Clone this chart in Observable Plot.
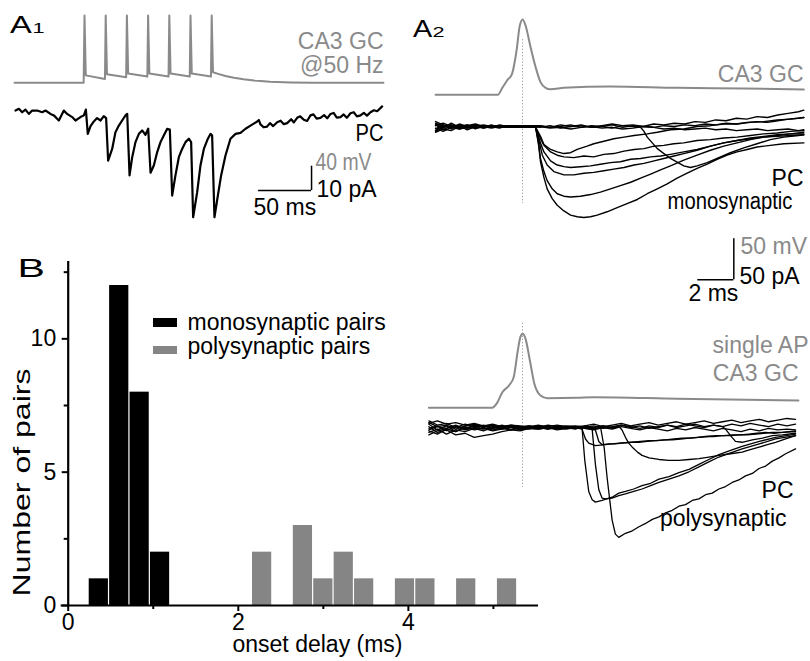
<!DOCTYPE html>
<html><head><meta charset="utf-8">
<script src="https://cdn.jsdelivr.net/npm/d3@7"></script>
<script src="https://cdn.jsdelivr.net/npm/@observablehq/plot@0.6"></script>
<style>
html,body{margin:0;padding:0;background:#fff;}
#fig{position:relative;width:810px;height:661px;overflow:hidden;background:#fff;}
</style></head><body><div id="fig"></div>
<script>
// ================= DATA =================
// Panel B histogram (onset delay, ms)
const binWidth = 0.24;
const monoBinStart = [0.24, 0.48, 0.72, 0.96];
const monoCounts = [1, 12, 8, 2];
const polyBinStart = [2.16, 2.64, 2.88, 3.12, 3.36, 3.84, 4.08, 4.56, 5.04];
const polyCounts = [2, 3, 1, 2, 1, 1, 1, 1, 1];
const xTicks = [0, 2, 4];
const xMinorTicks = [1, 3, 5];
const yTicks = [0, 5, 10];
const yMinorTicks = [2.5, 7.5, 12.5];
const seriesNames = ["monosynaptic pairs", "polysynaptic pairs"];

// Panel A1: CA3 GC voltage (ms, mV), 50 Hz train
const a1GcTrace = [[-66,-70],[-0.8,-70],[0,40],[1.2,-58],[19.3,-64],[20,40],[21.2,-56],[39.3,-61],[40,40],[41.2,-55],[59.3,-60],[60,40],[61.2,-55],[79.3,-60],[80,40],[81.2,-55],[99.3,-60],[100,40],[101.2,-55],[119.3,-60],[120,40],[121.2,-53],[126,-55.5],[133,-59],[141,-62],[150,-64.5],[160,-66.5],[175,-68.3],[195,-69.5],[215,-70],[282,-70]];
// Panel A1: PC current (ms, pA)
const a1PcTrace = [[-65.1,0.4],[-61.9,1.1],[-58.8,-0.3],[-55.7,0.8],[-52.5,-1.0],[-49.4,0.4],[-44.7,0.4],[-39.9,-0.3],[-36.8,0.4],[-32.1,-1.0],[-28.9,-1.6],[-24.2,-3.7],[-19.5,0.4],[-16.4,-1.0],[-11.6,-2.3],[-8.5,-3.7],[-3.8,-2.3],[-0.6,-1.6],[1.3,0.8],[3.1,-9.2],[5.7,-6.0],[8.8,-4.1],[11.9,-2.7],[15.1,-3.7],[18.2,-1.9],[20.4,-2.7],[22.3,-20.2],[26.1,-15.4],[29.2,-8.5],[32.4,-5.8],[35.5,-3.7],[38.7,-1.6],[40.3,-1.0],[42.5,-26.3],[45.0,-18.8],[48.1,-12.6],[51.3,-9.2],[54.4,-7.8],[57.5,-9.6],[60.1,-7.1],[62.3,-25.2],[65.4,-22.2],[68.6,-16.7],[71.7,-12.6],[74.8,-9.9],[78.0,-7.1],[80.5,-7.4],[82.7,-34.6],[85.8,-26.3],[89.0,-18.8],[92.1,-15.4],[95.3,-12.6],[98.4,-11.2],[100.6,-12.6],[102.5,-43.5],[106.3,-33.2],[109.4,-22.2],[112.6,-15.4],[116.4,-11.2],[118.9,-9.2],[120.4,-9.9],[122.6,-43.5],[125.8,-34.6],[128.9,-26.3],[133.0,-18.1],[137.7,-11.2],[142.5,-9.2],[147.2,-8.8],[151.9,-7.1],[156.6,-5.8],[162.9,-4.1],[164.5,-3.5],[166.0,-5.3],[169,-6.5],[172.3,-6.2],[175,-4.8],[178,-6.0],[181.8,-4.4],[185,-3.8],[188,-5.2],[191.2,-4.8],[195,-3.2],[197.5,-4.5],[200.6,-2.6],[203.5,-2.0],[206.9,-3.4],[210,-3.9],[213.2,-1.6],[216,-1.2],[219,-2.9],[222.6,-2.6],[226,-1.5],[229,-2.8],[232.1,-1.0],[235,-0.6],[238,-2.5],[241.5,-2.3],[244.5,-1.2],[247.5,-2.6],[250.9,-0.7],[254,-0.3],[257,-2.0],[260.4,-1.6],[263.5,-0.6],[266.5,-1.7],[269.8,-0.3],[273,0.5],[276.1,0.1],[280.8,2.1]];

// Panel A2 (monosynaptic): CA3 GC single AP (ms, mV)
const a2TopGc = [[-4.83,-70],[-1.37,-70],[-1.12,-61.5],[-0.86,-52.6],[-0.58,-44.4],[-0.33,-16],[-0.15,14.5],[0.01,21.8],[0.17,14.5],[0.45,-12],[0.73,-36.3],[1.0,-54.6],[1.28,-61.5],[1.56,-63.2],[2.3,-61.5],[4.89,-59.9],[8.6,-61.5],[12.29,-62.3],[15.63,-63.5]];
// PC sweeps (ms, pA): shared baseline samples, then the rest of each sweep
const a2MonoBaseT = [-4.83,-4.41,-3.96,-3.51,-3.07,-2.62,-2.17,-1.73,-1.28,-0.83,-0.38,0.06,0.51];
const a2MonoBaseI = [
 [3,-2,4,-1,2,-3,1,-1,2,0,-1,1,0],
 [-5,1,-3,2,-2,1,-1,2,-1,1,0,-1,0],
 [6,2,-1,3,0,2,-2,1,0,-1,1,0,-1],
 [-7,-3,-5,0,-2,-1,1,-1,0,1,-1,0,0],
 [1,4,0,-2,1,3,0,-1,1,0,1,-1,0],
 [-2,-6,-1,-3,0,-2,-1,0,-2,1,0,0,-1],
 [4,0,2,-3,-1,0,2,0,-1,-1,1,0,0],
 [-3,2,-2,1,-4,0,-1,1,1,-1,0,1,0],
 [2,-4,1,0,2,-1,0,-2,0,0,-1,0,1],
 [-6,-1,2,-2,-1,1,-2,0,1,-1,0,-1,0]
];
const a2MonoFailT = [0.96,1.53,2.11,2.68,3.26,3.83,4.41,4.98,5.56,6.13,6.71,7.28,7.86,8.43,9.01,9.58,10.16,10.73,11.31,11.88,12.46,13.03,13.61,14.18,14.76,15.33,15.63];
const a2MonoFailI = [
 [1,-1,2,0,2,-1,1,3,1,2,0,3,2,4,3,6,5,8,7,10,9,12,11,14,16,18,20],
 [-1,1,-2,0,1,-1,0,2,-1,1,0,-1,1,0,2,1,3,2,4,3,5,6,5,7,9,10,11],
 [0,-2,-1,-3,-1,0,-2,-1,-3,-2,0,-1,-3,-2,-4,-3,-2,-4,-3,-5,-4,-3,-5,-4,-3,-5,-4]
];
const a2MonoResp = [
 [[0.73,-1],[1.0,-12],[1.19,-22],[1.56,-28],[1.93,-31],[2.3,-33],[2.67,-32],[3.04,-28],[3.59,-24],[3.96,-21],[4.52,-18],[5.07,-15],[5.64,-13],[6.2,-11],[6.93,-9],[7.49,-7],[8.22,-4],[8.96,-3],[9.7,0],[10.44,1],[11.18,3],[11.92,3],[12.66,5],[13.4,6],[14.15,8],[14.89,9],[15.63,11]],
 [[0.73,-1],[1.0,-15],[1.19,-23],[1.56,-31],[1.93,-35],[2.3,-37],[2.85,-38],[3.41,-36],[3.96,-37],[4.52,-34],[5.07,-33],[5.64,-30],[6.2,-28],[6.75,-27],[7.31,-24],[7.85,-23],[8.41,-21],[8.96,-20],[9.7,-17],[10.44,-16],[11.18,-14],[11.92,-13],[12.66,-11],[13.4,-9],[14.15,-8],[14.89,-6],[15.63,-5]],
 [[0.73,-1],[1.0,-20],[1.19,-31],[1.56,-42],[1.93,-47],[2.3,-49],[2.67,-50],[3.22,-49],[3.78,-48],[4.33,-46],[4.89,-44],[5.44,-43],[6.01,-40],[6.56,-39],[7.12,-37],[7.67,-36],[8.22,-34],[8.96,-31],[9.7,-28],[10.44,-24],[11.18,-20],[11.92,-17],[12.66,-15],[13.4,-13],[14.15,-11],[14.89,-9],[15.63,-7]],
 [[0.73,-1],[0.92,-18],[1.1,-35],[1.37,-47],[1.74,-55],[2.3,-59],[2.85,-59],[3.41,-57],[3.96,-56],[4.52,-54],[5.07,-52],[5.64,-50],[6.2,-47],[6.75,-45],[7.31,-42],[7.85,-39],[8.41,-36],[8.96,-33],[9.7,-29],[10.44,-24],[11.18,-20],[11.92,-17],[12.66,-14],[13.4,-12],[14.15,-10],[14.89,-9],[15.63,-9]],
 [[0.73,-1],[0.89,-20],[1.0,-39],[1.19,-55],[1.37,-66],[1.65,-76],[1.93,-82],[2.3,-85],[2.67,-86],[3.22,-85],[3.78,-83],[4.33,-80],[4.89,-76],[5.44,-72],[6.01,-68],[6.56,-63],[7.12,-58],[7.67,-53],[8.22,-48],[8.96,-41],[9.7,-35],[10.44,-29],[11.18,-24],[11.92,-20],[12.66,-16],[13.4,-13],[14.15,-12],[14.89,-11],[15.63,-10]],
 [[0.73,-1],[0.89,-22],[1.0,-43],[1.19,-62],[1.37,-76],[1.65,-88],[1.93,-96],[2.3,-103],[2.67,-108],[3.04,-110],[3.41,-111],[3.78,-110],[4.15,-108],[4.7,-104],[5.26,-99],[5.81,-94],[6.38,-89],[6.93,-82],[7.49,-76],[8.04,-70],[8.59,-63],[9.15,-57],[9.7,-51],[10.26,-46],[10.81,-40],[11.37,-35],[11.92,-31],[12.48,-28],[13.03,-25],[13.77,-23],[14.52,-21],[15.63,-20]],
 [[0.96,1],[1.53,-1],[2.11,0],[2.68,2],[3.26,-1],[3.83,1],[4.41,0],[4.98,-2],[5.56,1],[6.13,0],[6.56,-1],[6.75,-6],[6.93,-13],[7.49,-27],[8.22,-39],[8.96,-48],[9.33,-50],[9.7,-48],[10.26,-44],[10.81,-39],[11.55,-32],[12.29,-26],[13.03,-21],[13.77,-16],[14.52,-13],[15.33,-11],[15.63,-10]]
];

// Panel A2 (polysynaptic): CA3 GC single AP (ms, mV)
const a2BotGc = [[-5.2,-70],[-1.69,-70],[-1.41,-64],[-1.12,-51],[-0.75,-42.8],[-0.49,-32.7],[-0.26,-0.1],[-0.12,16.1],[0.01,20.2],[0.17,14.1],[0.41,-12.3],[0.66,-40.7],[1.0,-55],[1.37,-58.3],[3.04,-57.8],[3.96,-57.1],[8.6,-59],[15.33,-61.1]];
const a2PolyBaseT = [-5.2,-4.73,-4.22,-3.71,-3.19,-2.68,-2.17,-1.66,-1.15,-0.64,-0.13,0.38,0.89,1.41,1.92,2.43,2.94];
const a2PolyBaseI = [
 [4,-3,2,-5,1,-2,3,-1,2,-3,0,2,-1,1,-2,0,1],
 [-6,-2,-8,-3,-5,-1,-4,0,-2,1,-3,-1,0,-2,1,-1,0],
 [8,3,5,0,4,1,2,-1,3,0,1,-2,2,0,-1,1,-1],
 [-3,1,-1,3,-2,2,0,-3,-1,2,-2,0,1,-1,2,0,-2],
 [1,-6,-3,-9,-7,-12,-10,-8,-5,-3,-4,-1,-2,0,-3,-1,0],
 [-9,-4,-1,2,-1,3,1,2,0,3,1,2,0,3,1,-1,1],
 [5,8,4,6,3,5,2,4,1,3,2,0,2,1,3,1,2],
 [-1,2,-4,1,-3,0,-2,1,-1,-3,0,-1,-2,0,-1,-2,0],
 [6,1,3,-2,2,4,1,3,0,2,-1,1,3,0,1,2,1],
 [-4,-8,-2,-5,0,-3,-1,-4,-2,0,-3,-1,1,-2,0,-1,-1]
];
const a2PolyResp = [
 [[3.45,1],[3.96,-1],[4.34,0],[4.54,-25],[4.7,-61],[4.98,-113],[5.16,-130],[5.35,-134],[5.72,-129],[6.1,-126],[6.47,-121],[6.84,-117],[7.21,-112],[7.58,-109],[7.95,-104],[8.32,-101],[8.69,-96],[9.06,-94],[9.43,-89],[9.8,-87],[10.17,-82],[10.54,-80],[10.91,-75],[11.28,-72],[11.65,-67],[12.02,-64],[12.39,-59],[12.77,-56],[13.14,-50],[13.51,-47],[13.88,-41],[14.25,-37],[14.62,-32],[15.17,-26]],
 [[3.45,-1],[3.87,-2],[4.05,-45],[4.24,-76],[4.42,-86],[4.61,-87],[4.98,-86],[5.35,-83],[5.72,-81],[6.18,-78],[6.64,-75],[7.12,-71],[7.58,-67],[8.14,-63],[8.69,-59],[9.25,-54],[9.8,-48],[10.35,-42],[10.91,-36],[11.56,-31],[12.2,-26],[13.16,-20],[14.06,-14],[15.17,-10]],
 [[3.31,-1],[3.46,-40],[3.68,-78],[3.87,-88],[4.05,-91],[4.42,-89],[4.98,-85],[5.35,-80],[5.72,-78],[6.18,-75],[6.64,-71],[7.12,-68],[7.58,-63],[8.14,-60],[8.69,-55],[9.25,-51],[9.8,-45],[10.35,-39],[10.91,-33],[11.56,-28],[12.2,-23],[13.16,-17],[14.06,-12],[15.17,-8]],
 [[3.45,2],[3.96,0],[4.47,2],[4.98,-1],[5.37,1],[5.53,-3],[5.72,-12],[5.9,-19],[6.1,-24],[6.39,-30],[6.64,-34],[7.03,-37],[7.58,-39],[8.13,-40],[8.69,-40],[9.25,-39],[9.8,-38],[10.35,-36],[10.91,-34],[11.56,-32],[12.2,-30],[12.65,-27],[13.14,-24],[13.6,-21],[14.06,-18],[14.62,-14],[15.17,-10]],
 [[3.31,-2],[3.5,-14],[3.68,-19],[4.05,-22],[4.61,-21],[5.35,-19],[6.1,-18],[6.56,-17],[7.03,-16],[7.49,-16],[7.95,-15],[8.41,-14],[8.88,-13],[9.34,-13],[9.8,-12],[10.27,-11],[10.73,-10],[11.19,-10],[11.65,-9],[12.11,-9],[12.57,-8],[13.03,-7],[13.51,-6],[13.97,-7],[14.44,-6],[15.17,-4]],
 [[3.45,0],[3.87,-1],[4.05,-3],[4.24,-17],[4.42,-21],[4.79,-20],[5.16,-20],[5.53,-19],[6.01,-18],[6.47,-18],[6.93,-17],[7.39,-16],[7.86,-15],[8.32,-15],[8.79,-14],[9.25,-13],[9.71,-12],[10.17,-11],[10.63,-11],[11.09,-10],[11.56,-10],[12.02,-9],[12.48,-9],[12.96,-8],[13.42,-7],[13.88,-6],[14.44,-6],[15.17,-5]],
 [[3.45,0],[3.96,2],[4.47,-1],[4.98,1],[5.49,3],[6.01,0],[6.52,2],[7.03,-1],[7.54,1],[8.05,3],[8.56,0],[9.07,2],[9.58,4],[10.09,1],[10.61,3],[11.12,1],[11.28,-2],[11.56,-10],[11.83,-17],[12.2,-18],[12.77,-15],[13.33,-13],[13.88,-10],[14.44,-9],[15.17,-7]]
];
const a2PolyFailT = [3.45,3.96,4.47,4.98,5.49,6.01,6.52,7.03,7.54,8.05,8.56,9.07,9.58,10.09,10.61,11.12,11.63,12.14,12.65,13.16,13.67,14.18,14.69,15.17];
const a2PolyFailI = [
 [1,-2,2,0,3,1,-1,2,0,3,1,4,2,0,3,1,4,2,5,3,1,4,2,4],
 [2,4,1,3,5,2,4,6,3,5,7,4,6,8,5,7,9,6,8,10,7,9,11,10],
 [-1,-3,0,-2,1,-1,-3,0,-2,-4,-1,-3,0,-2,-4,-1,-3,-5,-2,-4,-1,-3,-2,-3]
];

// Scale bars (their physical sizes and anchor)
const a1Bar = {t: 164.2, i: -32.5, ms: 50, pA: 10};
const a2Bar = {t: 9.74, i: -187, ms: 2, pA: 50};

// ================= DRAWING =================
const FONT = "'Liberation Sans', Arial, Helvetica, sans-serif";
const GRAY = "#8a8a8a";
const BARGRAY = "#858585";
const fig = document.getElementById("fig");
function place(svg, left, top) {
  svg.style.position = "absolute";
  svg.style.left = left + "px";
  svg.style.top = top + "px";
  fig.appendChild(svg);
}
function tracePlot(xs, ys, marks) {
  return Plot.plot({
    width: 810, height: 661, margin: 0,
    x: {...xs, axis: null}, y: {...ys, axis: null},
    style: {background: "transparent", overflow: "visible"},
    marks
  });
}
const pairs = (T, V) => T.map((t, j) => [t, V[j]]);
const toRows = (traces) => traces.flatMap((tr, k) => tr.map(([t, v]) => ({t, v, k})));
const px = d => d[0], py = d => d[1];

const monoFail = a2MonoFailI.map(v => pairs(a2MonoFailT, v));
const monoRest = [monoFail[0], monoFail[1], ...a2MonoResp, monoFail[2]];
const monoSweeps = a2MonoBaseI.map((b, k) => pairs(a2MonoBaseT, b).concat(monoRest[k]));
const polyFail = a2PolyFailI.map(v => pairs(a2PolyFailT, v));
const polyRest = [...a2PolyResp, ...polyFail];
const polySweeps = a2PolyBaseI.map((b, k) => pairs(a2PolyBaseT, b).concat(polyRest[k]));

// ---- A1 ----
const xA1 = {domain: [0, 50], range: [84, 137]};
place(tracePlot(xA1, {domain: [-70, -30], range: [82.2, 57.8]}, [
  Plot.line(a1GcTrace, {x: px, y: py, stroke: GRAY, strokeWidth: 2})
]), 0, 0);
place(tracePlot(xA1, {domain: [0, -10], range: [111, 135.3]}, [
  Plot.line(a1PcTrace, {x: px, y: py, stroke: "black", strokeWidth: 2.2}),
  Plot.ruleY([a1Bar.i], {x1: a1Bar.t, x2: a1Bar.t + a1Bar.ms, stroke: "black", strokeWidth: 1.5}),
  Plot.ruleX([a1Bar.t + a1Bar.ms], {y1: a1Bar.i, y2: a1Bar.i + a1Bar.pA, stroke: "black", strokeWidth: 1.5})
]), 0, 0);

// ---- A2 monosynaptic ----
const xA2 = {domain: [0, 2], range: [522, 558]};
place(tracePlot(xA2, {domain: [-70, -20], range: [94.3, 53.3]}, [
  Plot.line(a2TopGc, {x: px, y: py, stroke: GRAY, strokeWidth: 2, curve: "monotone-x"})
]), 0, 0);
place(tracePlot(xA2, {domain: [0, -50], range: [126, 167]}, [
  Plot.ruleX([0], {y1: 106, y2: -94, stroke: "#999", strokeWidth: 1, strokeDasharray: "1.2,2"}),
  Plot.line(toRows(monoSweeps), {x: "t", y: "v", z: "k", stroke: "black", strokeWidth: 1.4}),
  Plot.ruleY([a2Bar.i], {x1: a2Bar.t, x2: a2Bar.t + a2Bar.ms, stroke: "black", strokeWidth: 1.5}),
  Plot.ruleX([a2Bar.t + a2Bar.ms], {y1: a2Bar.i, y2: a2Bar.i + a2Bar.pA, stroke: "black", strokeWidth: 1.5})
]), 0, 0);

// ---- A2 polysynaptic ----
place(tracePlot(xA2, {domain: [-70, -20], range: [407.3, 366.3]}, [
  Plot.line(a2BotGc, {x: px, y: py, stroke: GRAY, strokeWidth: 2, curve: "monotone-x"})
]), 0, 0);
place(tracePlot(xA2, {domain: [0, -50], range: [427, 468]}, [
  Plot.ruleX([0], {y1: 127, y2: -73, stroke: "#999", strokeWidth: 1, strokeDasharray: "1.2,2"}),
  Plot.line(toRows(polySweeps), {x: "t", y: "v", z: "k", stroke: "black", strokeWidth: 1.3})
]), 0, 0);

// ---- B histogram ----
const monoData = monoBinStart.map((s, i) => ({x1: s, x2: s + binWidth, n: monoCounts[i]}));
const polyData = polyBinStart.map((s, i) => ({x1: s, x2: s + binWidth, n: polyCounts[i]}));
const plotB = Plot.plot({
  width: 560, height: 411,
  marginLeft: 67.7, marginRight: 22, marginTop: 11, marginBottom: 56,
  x: {domain: [0, 5.53], axis: null},
  y: {domain: [0, 12.9], axis: null},
  style: {background: "transparent", overflow: "visible", fontFamily: FONT, fontSize: "23px", color: "black"},
  marks: [
    Plot.rectY(monoData, {x1: "x1", x2: "x2", y: "n", fill: "black", insetLeft: 0.6, insetRight: 0.6}),
    Plot.rectY(polyData, {x1: "x1", x2: "x2", y: "n", fill: BARGRAY, insetLeft: 0.6, insetRight: 0.6}),
    Plot.ruleY([0], {stroke: "black", strokeWidth: 2.2, insetLeft: -7}),
    Plot.ruleX([0], {stroke: "black", strokeWidth: 2.2}),
    Plot.axisX({ticks: xTicks, tickSize: 6, tickPadding: 2, strokeWidth: 2, tickFormat: d => String(d), label: null}),
    Plot.axisX({ticks: xMinorTicks, tickSize: 4, strokeWidth: 2, tickFormat: () => "", label: null}),
    Plot.axisY({ticks: yTicks, tickSize: 6, tickPadding: 6, strokeWidth: 2, tickFormat: d => String(d), label: null}),
    Plot.axisY({ticks: yMinorTicks, tickSize: 4, strokeWidth: 2, tickFormat: () => "", label: null})
  ]
});
place(plotB, 0, 250);

// ---- Text overlay (page coordinates) ----
const labelsStart = [
  {text: "40 mV", x: 315, y: 169.5, c: GRAY, w: 56},
  {text: "10 pA", x: 316, y: 196, c: "black"},
  {text: "50 ms", x: 253, y: 214, c: "black"},
  {text: "50 mV", x: 740, y: 253, c: GRAY},
  {text: "50 pA", x: 739, y: 283, c: "black"},
  {text: "2 ms", x: 688, y: 300, c: "black"},
  {text: seriesNames[0], x: 187, y: 329, c: "black"},
  {text: seriesNames[1], x: 187, y: 353, c: "black"}
];
const labelsEnd = [
  {text: "CA3 GC", x: 383, y: 48, c: GRAY},
  {text: "@50 Hz", x: 383, y: 72.5, c: GRAY},
  {text: "PC", x: 383, y: 140, c: "black", w: 28},
  {text: "CA3 GC", x: 803, y: 81.7, c: GRAY},
  {text: "PC", x: 803, y: 185, c: "black"},
  {text: "monosynaptic", x: 792, y: 208, c: "black", w: 125},
  {text: "single AP", x: 808, y: 352, c: GRAY},
  {text: "CA3 GC", x: 798, y: 380, c: GRAY},
  {text: "PC", x: 793, y: 497, c: "black"},
  {text: "polysynaptic", x: 786, y: 525, c: "black"}
];
const axisLabelX = [{text: "onset delay (ms)", x: 317, y: 651}];
const panelLetters = [
  {text: "A", x: 9.5, y: 32.5, s: 23, sx: 1.42},
  {text: "1", x: 32, y: 32.5, s: 15.5, sx: 1.4},
  {text: "A", x: 412.5, y: 36.5, s: 23, sx: 1.25},
  {text: "2", x: 432, y: 36.5, s: 15.5, sx: 1.4},
  {text: "B", x: 17, y: 276.5, s: 26.5, sx: 1.55}
];
const axisLabelY = [{text: "Number of pairs", x: 29, y: 482, w: 228}];
const legendSwatches = [
  {x1: 153, x2: 177, y1: 318, y2: 327, c: "black"},
  {x1: 153, x2: 177, y1: 346, y2: 354, c: BARGRAY}
];
const overlay = Plot.plot({
  width: 810, height: 661, margin: 0,
  x: {type: "identity", axis: null}, y: {type: "identity", axis: null},
  color: {type: "identity"},
  style: {background: "transparent", overflow: "visible", fontFamily: FONT, fontSize: "23px"},
  marks: [
    Plot.rect(legendSwatches, {x1: "x1", x2: "x2", y1: "y1", y2: "y2", fill: "c"}),
    Plot.text(labelsStart, {x: "x", y: "y", text: "text", fill: "c", textAnchor: "start", lineAnchor: "bottom"}),
    Plot.text(labelsEnd, {x: "x", y: "y", text: "text", fill: "c", textAnchor: "end", lineAnchor: "bottom"}),
    Plot.text(axisLabelX, {x: "x", y: "y", text: "text", fill: "black", textAnchor: "middle", lineAnchor: "bottom"}),
    Plot.text(panelLetters, {x: "x", y: "y", text: "text", fontSize: "s", fill: "black", textAnchor: "start", lineAnchor: "bottom"}),
    Plot.text(axisLabelY, {x: "x", y: "y", text: "text", fill: "black", rotate: -90, textAnchor: "middle", lineAnchor: "bottom"})
  ]
});
place(overlay, 0, 0);
// horizontal fitting of label widths (stretch about each label's anchor point)
const allLabels = [...labelsStart, ...labelsEnd, ...axisLabelX, ...panelLetters, ...axisLabelY];
overlay.querySelectorAll("text").forEach((el, i) => {
  const d = allLabels[i];
  if (!d || !(d.w || d.sx)) return;
  let sx = d.sx;
  if (d.w) { const n = el.getComputedTextLength(); if (n > 0) sx = d.w / n; }
  if (!sx || !isFinite(sx)) return;
  const tr = el.getAttribute("transform");
  if (tr) {
    el.setAttribute("transform", tr + ` scale(${sx},1)`);
  } else {
    const x = parseFloat(el.getAttribute("x")) || 0, y = parseFloat(el.getAttribute("y")) || 0;
    el.removeAttribute("x"); el.removeAttribute("y");
    el.setAttribute("transform", `translate(${x},${y}) scale(${sx},1)`);
  }
});
</script></body></html>
